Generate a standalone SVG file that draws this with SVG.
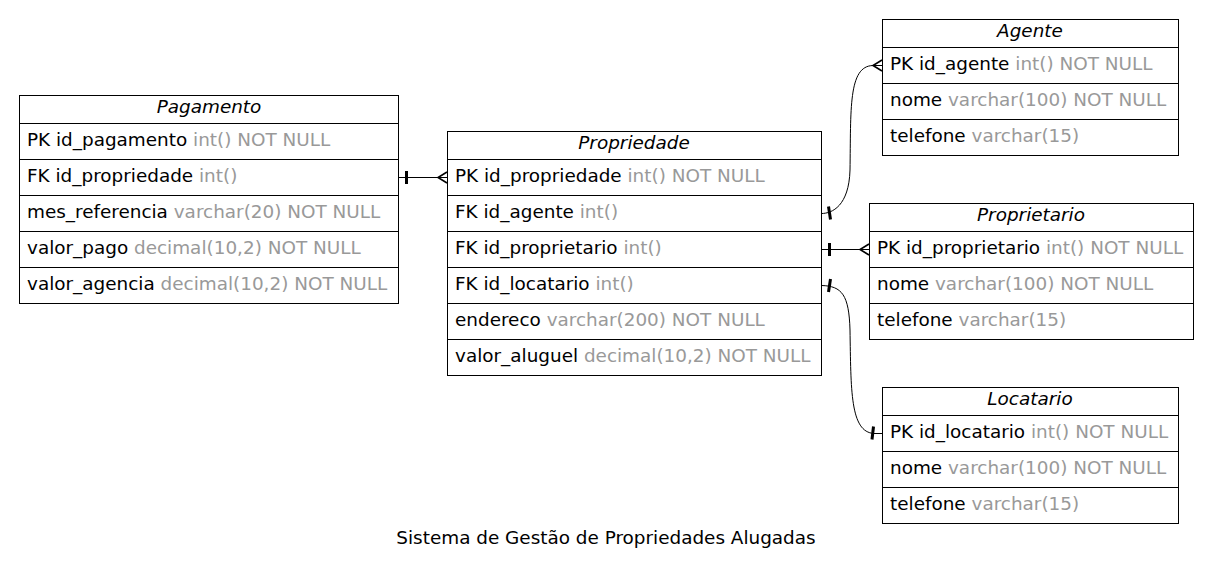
<svg xmlns="http://www.w3.org/2000/svg" width="1212" height="573" viewBox="0 0 1212 573">
<style>
  text { font-family: "DejaVu Sans", "Noto Sans", sans-serif; font-size: 18.4px; fill: #000; }
  .hdr { font-style: italic; text-anchor: middle; }
  .t { fill: #999; }
  .box { fill: #fff; stroke: #000; stroke-width: 1; }
  .sep { stroke: #000; stroke-width: 1; }
  .edge { fill: none; stroke: #000; stroke-width: 1; }
  .tee { stroke: #000; stroke-width: 3; }
  .crow { fill: none; stroke: #000; stroke-width: 1.6; stroke-linejoin: miter; }
</style>
<rect width="1212" height="573" fill="#fff"/>

<g id="Pagamento">
  <rect class="box" x="19.5" y="95.5" width="379" height="208"/>
  <path class="sep" d="M19.5,123.5H398.5M19.5,159.5H398.5M19.5,195.5H398.5M19.5,231.5H398.5M19.5,267.5H398.5"/>
  <text class="hdr" x="209" y="112.5">Pagamento</text>
  <text x="27" y="145.5">PK id_pagamento <tspan class="t">int() NOT NULL</tspan></text>
  <text x="27" y="181.5">FK id_propriedade <tspan class="t">int()</tspan></text>
  <text x="27" y="217.5">mes_referencia <tspan class="t">varchar(20) NOT NULL</tspan></text>
  <text x="27" y="253.5">valor_pago <tspan class="t">decimal(10,2) NOT NULL</tspan></text>
  <text x="27" y="289.5">valor_agencia <tspan class="t">decimal(10,2) NOT NULL</tspan></text>
</g>

<g id="Propriedade">
  <rect class="box" x="447.5" y="131.5" width="374" height="244"/>
  <path class="sep" d="M447.5,159.5H821.5M447.5,195.5H821.5M447.5,231.5H821.5M447.5,267.5H821.5M447.5,303.5H821.5M447.5,339.5H821.5"/>
  <text class="hdr" x="634" y="148.5">Propriedade</text>
  <text x="455" y="181.5">PK id_propriedade <tspan class="t">int() NOT NULL</tspan></text>
  <text x="455" y="217.5">FK id_agente <tspan class="t">int()</tspan></text>
  <text x="455" y="253.5">FK id_proprietario <tspan class="t">int()</tspan></text>
  <text x="455" y="289.5">FK id_locatario <tspan class="t">int()</tspan></text>
  <text x="455" y="325.5">endereco <tspan class="t">varchar(200) NOT NULL</tspan></text>
  <text x="455" y="361.5">valor_aluguel <tspan class="t">decimal(10,2) NOT NULL</tspan></text>
</g>

<g id="Agente">
  <rect class="box" x="882.5" y="19.5" width="296" height="136"/>
  <path class="sep" d="M882.5,47.5H1178.5M882.5,83.5H1178.5M882.5,119.5H1178.5"/>
  <text class="hdr" x="1030" y="36.5">Agente</text>
  <text x="890" y="69.5">PK id_agente <tspan class="t">int() NOT NULL</tspan></text>
  <text x="890" y="105.5">nome <tspan class="t">varchar(100) NOT NULL</tspan></text>
  <text x="890" y="141.5">telefone <tspan class="t">varchar(15)</tspan></text>
</g>

<g id="Proprietario">
  <rect class="box" x="869.5" y="203.5" width="324" height="136"/>
  <path class="sep" d="M869.5,231.5H1193.5M869.5,267.5H1193.5M869.5,303.5H1193.5"/>
  <text class="hdr" x="1031" y="220.5">Proprietario</text>
  <text x="877" y="253.5">PK id_proprietario <tspan class="t">int() NOT NULL</tspan></text>
  <text x="877" y="289.5">nome <tspan class="t">varchar(100) NOT NULL</tspan></text>
  <text x="877" y="325.5">telefone <tspan class="t">varchar(15)</tspan></text>
</g>

<g id="Locatario">
  <rect class="box" x="882.5" y="387.5" width="296" height="136"/>
  <path class="sep" d="M882.5,415.5H1178.5M882.5,451.5H1178.5M882.5,487.5H1178.5"/>
  <text class="hdr" x="1030" y="404.5">Locatario</text>
  <text x="890" y="437.5">PK id_locatario <tspan class="t">int() NOT NULL</tspan></text>
  <text x="890" y="473.5">nome <tspan class="t">varchar(100) NOT NULL</tspan></text>
  <text x="890" y="509.5">telefone <tspan class="t">varchar(15)</tspan></text>
</g>

<g id="connectors">
  <!-- Pagamento.id_propriedade -> Propriedade.id_propriedade -->
  <path class="edge" d="M398.5,177.5H447"/>
  <line class="tee" x1="406.5" y1="171" x2="406.5" y2="184"/>
  <path class="crow" d="M447,172L438,177.5L447,183"/>

  <!-- Propriedade.id_agente -> Agente.id_agente -->
  <path class="edge" d="M821.5,213.5C832,213.5 849,206 850,170 C851,110 848,66 873,65.5H882"/>
  <line class="tee" x1="828.5" y1="206.5" x2="830.5" y2="219.5"/>
  <path class="crow" d="M882,60L873,65.5L882,71"/>

  <!-- Propriedade.id_proprietario -> Proprietario.id_proprietario -->
  <path class="edge" d="M821.5,249.5H869"/>
  <line class="tee" x1="829.5" y1="243" x2="829.5" y2="256"/>
  <path class="crow" d="M869,244L860,249.5L869,255"/>

  <!-- Propriedade.id_locatario -> Locatario.id_locatario -->
  <path class="edge" d="M821.5,285.5C842,286 849,295 850,330 C851,390 850,432 874,433.5H882"/>
  <line class="tee" x1="830.5" y1="279" x2="828.5" y2="292"/>
  <line class="tee" x1="873.5" y1="426.5" x2="872" y2="439.5"/>
</g>

<text x="606" y="543.5" text-anchor="middle">Sistema de Gestão de Propriedades Alugadas</text>
</svg>
